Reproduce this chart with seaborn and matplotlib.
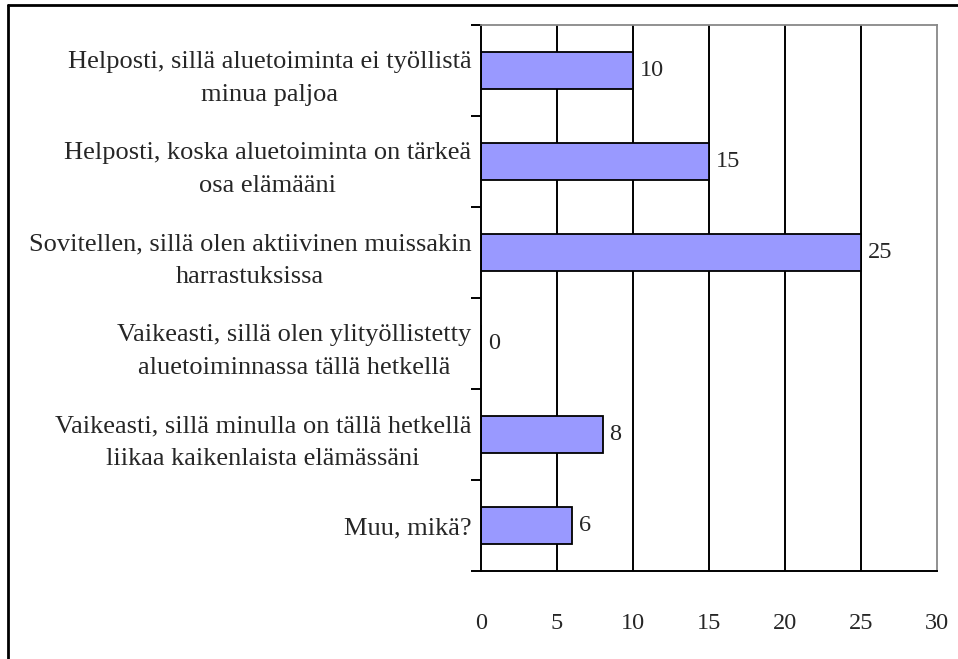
import numpy as np
import pandas as pd
import matplotlib
matplotlib.use("Agg")
import matplotlib.pyplot as plt
from matplotlib.lines import Line2D
from matplotlib.ticker import FixedLocator
import seaborn as sns

# Data
categories = [
    "Helposti, sillä aluetoiminta ei työllistä\nminua paljoa",
    "Helposti, koska aluetoiminta on tärkeä\nosa elämääni",
    "Sovitellen, sillä olen aktiivinen muissakin\nharrastuksissa",
    "Vaikeasti, sillä olen ylityöllistetty\naluetoiminnassa tällä hetkellä",
    "Vaikeasti, sillä minulla on tällä hetkellä\nliikaa kaikenlaista elämässäni",
    "Muu, mikä?",
]
counts = [10, 15, 25, 0, 8, 6]
x_ticks = [0, 5, 10, 15, 20, 25, 30]

df = pd.DataFrame({"vastaus": categories, "lkm": counts})

sns.set_style("white")
plt.rcParams["font.family"] = ["Liberation Serif", "DejaVu Serif"]

fig = plt.figure(figsize=(9.58, 6.59), dpi=100)
ax = fig.add_axes([481 / 958, 1 - 571 / 659, (937 - 481) / 958, (571 - 25) / 659])

sns.barplot(data=df, x="lkm", y="vastaus", orient="h", color="#9999FF",
            edgecolor="black", linewidth=1.3, width=0.4, saturation=1, ax=ax)

ax.set_xlim(0, 30)
ax.set_ylim(len(categories) - 0.5, -0.5)
ax.set_xlabel("")
ax.set_ylabel("")

# vertical gridlines
for v in x_ticks[1:-1]:
    ax.axvline(v, color="black", linewidth=1.4, zorder=0)

# spines
for side in ["top", "right"]:
    ax.spines[side].set_color("#888888")
    ax.spines[side].set_linewidth(1.3)
for side in ["left", "bottom"]:
    ax.spines[side].set_color("black")
    ax.spines[side].set_linewidth(1.4)

ax.set_xticks(x_ticks)
ax.set_xticklabels([str(t) for t in x_ticks])
ax.tick_params(axis="x", direction="out", length=8, width=1.4, color="black",
               pad=22, labelsize=17.5)

ax.yaxis.set_minor_locator(FixedLocator(np.arange(-0.5, len(categories), 1.0)))
ax.tick_params(axis="y", which="minor", direction="out", length=7, width=1.4, color="black", left=True)
ax.tick_params(axis="y", which="major", length=0, pad=7, labelsize=19, left=True)
for lbl in ax.get_yticklabels():
    lbl.set_multialignment("center")
    lbl.set_linespacing(1.65)

for cont in ax.containers:
    ax.bar_label(cont, fmt="%d", padding=5, fontsize=17.5)

# figure frame (top and left lines)
fig.add_artist(Line2D([8 / 958, 1], [1 - 5 / 659, 1 - 5 / 659], color="black", linewidth=2, transform=fig.transFigure))
fig.add_artist(Line2D([8 / 958, 8 / 958], [0, 1 - 5 / 659], color="black", linewidth=2, transform=fig.transFigure))

fig.savefig("out.png", dpi=100)
